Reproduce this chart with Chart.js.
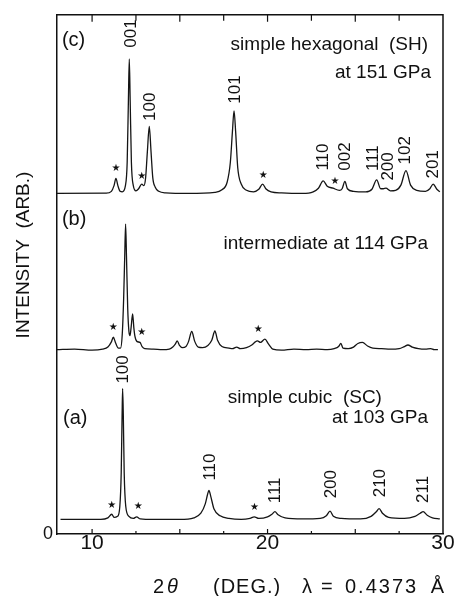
<!DOCTYPE html>
<html><head><meta charset="utf-8">
<script src="https://cdn.jsdelivr.net/npm/chart.js@4.4.0/dist/chart.umd.min.js"></script>
<style>html,body{margin:0;padding:0;background:#fff;}canvas{display:block;}</style>
</head><body>
<canvas id="c" width="455" height="596"></canvas>
<script>
// ---- data (2θ in degrees, intensity in arbitrary units above each trace's baseline) ----
const traceNames = ['(a) simple cubic 103 GPa', '(b) intermediate 114 GPa', '(c) simple hexagonal 151 GPa'];
const traceOffsets = [2.8, 35.5, 65.6];

const twoThetaA = [8.2,10.5,10.9,11.12,11.25,11.45,11.58,11.66,11.71,11.74,11.78,11.83,11.92,12.1,12.35,12.54,12.75,13.5,15.0,15.8,16.2,16.45,16.58,16.66,16.76,16.95,17.3,17.8,18.5,19.0,19.24,19.5,20.0,20.25,20.42,20.6,21.0,22.0,23.0,23.35,23.56,23.75,24.2,25.3,25.9,26.2,26.36,26.55,26.9,27.8,28.4,28.7,28.87,29.1,29.4,29.82];
const intensityA = [0,0,0.3,1.0,0.4,0.6,2.5,9,20,25.2,20,9,2.5,0.6,0.2,0.5,0.1,0,0,0.3,1.2,3.0,4.8,5.6,4.5,2.0,0.7,0.2,0,0.2,0.5,0.2,0.5,1.0,1.5,0.9,0.3,0.1,0.2,0.7,1.6,0.6,0.2,0.1,0.6,1.5,2.1,1.2,0.4,0.2,0.6,1.2,1.5,0.8,0.3,0.1];

const twoThetaB = [8.0,9.0,10.0,10.6,10.9,11.1,11.21,11.33,11.5,11.62,11.72,11.8,11.86,11.91,11.96,12.03,12.1,12.16,12.23,12.31,12.38,12.44,12.55,12.73,12.85,13.0,13.5,14.0,14.4,14.6,14.75,14.85,14.97,15.15,15.35,15.5,15.68,15.85,16.05,16.3,16.6,16.82,17.0,17.15,17.4,17.8,18.0,18.24,18.45,18.8,19.1,19.3,19.42,19.6,19.85,20.05,20.3,20.8,21.5,22.2,22.8,23.4,23.8,24.05,24.18,24.3,24.6,24.9,25.15,25.41,25.7,26.0,26.5,27.0,27.5,27.8,28.0,28.25,28.6,29.0,29.3,29.5,29.71];
const intensityB = [0,0.1,-0.1,0.1,0.5,1.5,2.4,1.4,0.3,0.3,3,10,18,24.2,18,8,3.5,2.7,4.5,6.9,4.2,2.6,1.6,1.4,0.6,0.2,0.1,0,0.1,0.5,1.1,1.7,0.9,0.4,0.6,1.6,3.5,1.6,0.5,0.4,0.8,1.8,3.6,1.8,0.6,0.3,0.2,0.5,0.2,0.4,0.9,1.5,1.7,1.4,2.05,1.1,0.1,-0.1,0.1,0,0.1,0,0.2,0.6,1.2,0.3,0.2,0.5,1.2,1.4,0.7,0.3,0.2,0.1,0.2,0.6,0.9,0.5,0.2,0.1,0.2,0,0];

const twoThetaC = [8.0,10.8,11.1,11.25,11.36,11.47,11.6,11.72,11.9,12.0,12.07,12.12,12.17,12.24,12.35,12.5,12.65,12.83,12.95,13.05,13.15,13.26,13.36,13.46,13.6,13.8,14.2,15.5,17.0,17.4,17.7,17.88,18.0,18.09,18.18,18.3,18.5,18.8,19.2,19.5,19.72,19.9,20.2,20.8,22.0,22.6,22.9,23.17,23.4,23.73,24.1,24.25,24.41,24.55,24.9,25.6,25.95,26.22,26.45,26.6,26.75,27.0,27.3,27.6,27.89,28.15,28.5,29.0,29.25,29.44,29.65,29.82];
const intensityC = [0,0.05,0.4,1.5,2.9,1.5,0.4,0.3,1.5,6,18,25.9,18,6,1.5,0.5,0.9,1.8,1.5,3,8,12.9,8,3,1.2,0.4,0.1,0,0.2,0.7,2.2,6,12,15.9,12,5,1.8,0.6,0.3,0.8,1.8,0.9,0.3,0.1,0,0.3,1.0,2.4,1.4,1.0,0.6,0.9,2.3,0.9,0.4,0.3,0.8,2.6,0.9,0.9,1.0,0.5,0.6,1.6,4.4,1.6,0.6,0.4,0.9,1.8,0.8,0.3];

const xTickLabels = [10, 20, 30];
const xTickMarks = [10, 12.5, 15, 17.5, 20, 22.5, 25, 27.5];
const yTickLabels = [0];

// peak (Miller index) labels: text, 2θ, label centre height
const hklC = ['001','100','101','110','002','111','200','102','201'];
const hklCx = [12.26,13.30,18.15,23.18,24.41,26.03,26.88,27.83,29.45];
const hklCy = [96.4,82.3,85.6,72.6,72.7,72.4,70.8,73.9,71.2];
const hklA = ['100','110','111','200','210','211'];
const hklAx = [11.78,16.75,20.42,23.62,26.41,28.88];
const hklAy = [31.7,12.9,8.4,9.6,9.8,8.6];
// impurity (*) markers
const starX = [11.36,12.83,19.76,23.84, 11.21,12.83,19.47, 11.12,12.63,19.26];
const starY = [70.5,68.9,69.1,67.9, 39.8,38.8,39.5, 5.5,5.3,5.2];

// ---- layout / style (not data) ----
const FONT = '"Liberation Sans", Arial, Helvetica, sans-serif';
const panelTexts = [
  {t:'(c)', x:8.28, y:95.0, align:'left', size:20},
  {t:'simple hexagonal  (SH)', x:29.15, y:94.2, align:'right', size:19},
  {t:'at 151 GPa', x:29.32, y:88.9, align:'right', size:19},
  {t:'(b)', x:8.28, y:60.5, align:'left', size:20},
  {t:'intermediate at 114 GPa', x:29.15, y:55.9, align:'right', size:19},
  {t:'(a)', x:8.34, y:22.3, align:'left', size:20},
  {t:'simple cubic  (SC)', x:26.52, y:26.3, align:'right', size:19},
  {t:'at 103 GPa', x:29.15, y:22.3, align:'right', size:19}
];

function series(tt, ii, off) { return tt.map((t, k) => ({x: t, y: off + ii[k]})); }

const decor = {
  id: 'decor',
  afterDraw(chart) {
    const {ctx, chartArea: ca, scales: {x, y}} = chart;
    ctx.save();
    ctx.strokeStyle = '#111'; ctx.lineWidth = 1.5;
    ctx.beginPath();
    ctx.moveTo(ca.left, ca.top); ctx.lineTo(ca.right, ca.top); ctx.lineTo(ca.right, ca.bottom);
    ctx.stroke();
    ctx.lineWidth = 1.2;
    xTickMarks.forEach(v => {
      const px = x.getPixelForValue(v);
      const major = (v % 5 === 0);
      ctx.beginPath();
      ctx.moveTo(px, ca.bottom); ctx.lineTo(px, ca.bottom - (major ? 5 : 3));
      ctx.moveTo(px, ca.top); ctx.lineTo(px, ca.top + (major ? 7 : 6));
      ctx.stroke();
    });
    ctx.fillStyle = '#111';
    ctx.textBaseline = 'middle';
    panelTexts.forEach(p => {
      ctx.font = p.size + 'px ' + FONT;
      ctx.textAlign = p.align;
      ctx.fillText(p.t, x.getPixelForValue(p.x), y.getPixelForValue(p.y));
    });
    ctx.font = '17px ' + FONT;
    ctx.textAlign = 'center';
    const rot = (t, px, py) => { ctx.save(); ctx.translate(px, py); ctx.rotate(-Math.PI/2); ctx.fillText(t, 0, 0); ctx.restore(); };
    hklC.forEach((t, i) => rot(t, x.getPixelForValue(hklCx[i]), y.getPixelForValue(hklCy[i])));
    hklA.forEach((t, i) => rot(t, x.getPixelForValue(hklAx[i]), y.getPixelForValue(hklAy[i])));
    ctx.font = '10px "DejaVu Sans", sans-serif';
    starX.forEach((v, i) => ctx.fillText('\u2605', x.getPixelForValue(v), y.getPixelForValue(starY[i])));
    // axis titles
    ctx.font = '19px ' + FONT;
    rot('INTENSITY  (ARB.)', 24, 255);
    ctx.textAlign = 'left';
    ctx.font = '20px ' + FONT;
    ctx.fillText('2', 153, 587);
    ctx.font = 'italic 20px ' + FONT;
    ctx.fillText('\u03b8', 167, 587);
    ctx.font = '20px ' + FONT;
    if ('letterSpacing' in ctx) ctx.letterSpacing = '1px';
    ctx.fillText('(DEG.)', 213, 587);
    if ('letterSpacing' in ctx) ctx.letterSpacing = '0px';
    ctx.fillText('\u03bb', 302, 587);
    ctx.fillText('=', 321, 587);
    if ('letterSpacing' in ctx) ctx.letterSpacing = '2px';
    ctx.fillText('0.4373', 345, 587);
    if ('letterSpacing' in ctx) ctx.letterSpacing = '0px';
    ctx.textAlign = 'right';
    ctx.fillText('\u00c5', 444, 587);
    ctx.restore();
  }
};

new Chart(document.getElementById('c'), {
  type: 'line',
  data: {
    datasets: [
      {label: traceNames[0], data: series(twoThetaA, intensityA, traceOffsets[0])},
      {label: traceNames[1], data: series(twoThetaB, intensityB, traceOffsets[1])},
      {label: traceNames[2], data: series(twoThetaC, intensityC, traceOffsets[2])}
    ].map(d => Object.assign(d, {borderColor: '#151515', borderWidth: 1.3, pointRadius: 0, fill: false, cubicInterpolationMode: 'monotone'}))
  },
  options: {
    responsive: false, animation: false, devicePixelRatio: 1,
    layout: {padding: {left: 0, right: 12, top: 13, bottom: 0}},
    plugins: {legend: {display: false}, tooltip: {enabled: false}},
    scales: {
      x: {
        type: 'linear', min: 8, max: 30, position: 'bottom',
        afterBuildTicks: s => { s.ticks = xTickLabels.map(v => ({value: v})); },
        afterFit: s => { s.height = 62; },
        ticks: {font: {family: FONT, size: 21}, color: '#111', padding: -3, maxRotation: 0, autoSkip: false},
        grid: {display: false, drawTicks: false},
        border: {display: true, color: '#111', width: 1.5}
      },
      y: {
        type: 'linear', min: 0, max: 100, position: 'left',
        afterBuildTicks: s => { s.ticks = yTickLabels.map(v => ({value: v})); },
        afterFit: s => { s.width = 57; },
        ticks: {font: {family: FONT, size: 18}, color: '#111', padding: 4},
        grid: {display: false, drawTicks: false},
        border: {display: true, color: '#111', width: 1.5}
      }
    }
  },
  plugins: [decor]
});
</script>
</body></html>
